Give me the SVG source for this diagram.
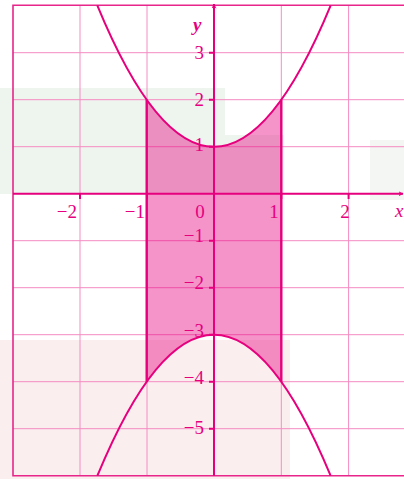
<svg xmlns="http://www.w3.org/2000/svg" width="404" height="479" viewBox="0 0 404 479">
<style>
.grid{stroke:#f48cc2;stroke-width:1;fill:none}
.frame{stroke:#e8258a;stroke-width:1.6;fill:none}
.axis{stroke:#e6007e;stroke-width:2;fill:none}
.curve{stroke:#e6007e;stroke-width:2;fill:none}
.edge{stroke:#e6007e;stroke-width:2.4;fill:none}
.lbl{font-family:"Liberation Serif",serif;font-size:19px;fill:#e6007e}
.ylbl{text-anchor:end}
.xlbl{text-anchor:middle}
</style>
<defs>
<marker id="arr" viewBox="0 0 10 10" refX="9" refY="5" markerWidth="5" markerHeight="5" orient="auto" markerUnits="userSpaceOnUse">
<path d="M0,0 L10,5 L0,10 L3,5 Z" fill="#e6007e"/>
</marker>
</defs>
<rect width="404" height="479" fill="#ffffff"/>
<g id="background" opacity="0.35">
<rect x="0" y="88" width="225" height="106" fill="#cfe3d2"/>
<rect x="214" y="135" width="70" height="59" fill="#cfe3d2"/>
<rect x="0" y="340" width="290" height="139" fill="#f6d0d4"/>
<rect x="370" y="140" width="34" height="60" fill="#dde6dd"/>
</g>
<g id="grid">
<path class="grid" d="M80,5.3V475.7M147,5.3V475.7M281.3,5.3V475.7M348.6,5.3V475.7"/>
<path class="grid" d="M13,52.7H404M13,99.7H404M13,146.7H404M13,240.7H404M13,287.7H404M13,334.7H404M13,381.7H404M13,428.7H404"/>
<path class="frame" d="M404,5.3H13V475.7H404"/>
</g>
<g id="region">
<path d="M146.7,99.7 Q214,193.7 281.3,99.7 L281.3,381.7 Q214,287.7 146.7,381.7 Z" fill="#e6007e" fill-opacity="0.42"/>
<path class="edge" d="M146.7,99.7V381.7M281.3,99.7V381.7"/>
</g>
<g id="connectors">
<path class="axis" d="M13,193.7H403" marker-end="url(#arr)"/>
<path class="axis" d="M214,475.7V4" marker-end="url(#arr)"/>
<path class="axis" d="M209,52.7H214M209,99.7H214M209,146.7H214M209,240.7H214M209,287.7H214M209,334.7H214M209,381.7H214M209,428.7H214" stroke-width="1.5"/>
<path class="axis" d="M80,193.7V199M147,193.7V199M281.3,193.7V199M348.6,193.7V199" stroke-width="1.5"/>
</g>
<g id="curves">
<path class="curve" d="M97.3,5.3 Q214,288.2 330.7,5.3"/>
<path class="curve" d="M97.4,475.7 Q214,193.7 330.6,475.7"/>
</g>
<g id="labels">
<text class="lbl" x="193" y="31" font-style="italic" font-weight="bold" font-size="21">y</text>
<text class="lbl" x="395" y="217" font-style="italic">x</text>
<text class="lbl ylbl" x="204" y="59">3</text>
<text class="lbl ylbl" x="204" y="106">2</text>
<text class="lbl ylbl" x="204" y="151">1</text>
<text class="lbl ylbl" x="204" y="242">−1</text>
<text class="lbl ylbl" x="204" y="289">−2</text>
<text class="lbl ylbl" x="204" y="337">−3</text>
<text class="lbl ylbl" x="204" y="384">−4</text>
<text class="lbl ylbl" x="204" y="434">−5</text>
<text class="lbl ylbl" x="77" y="218">−2</text>
<text class="lbl ylbl" x="145" y="218">−1</text>
<text class="lbl xlbl" x="200" y="218">0</text>
<text class="lbl xlbl" x="274" y="218">1</text>
<text class="lbl xlbl" x="345" y="218">2</text>
</g>
</svg>
